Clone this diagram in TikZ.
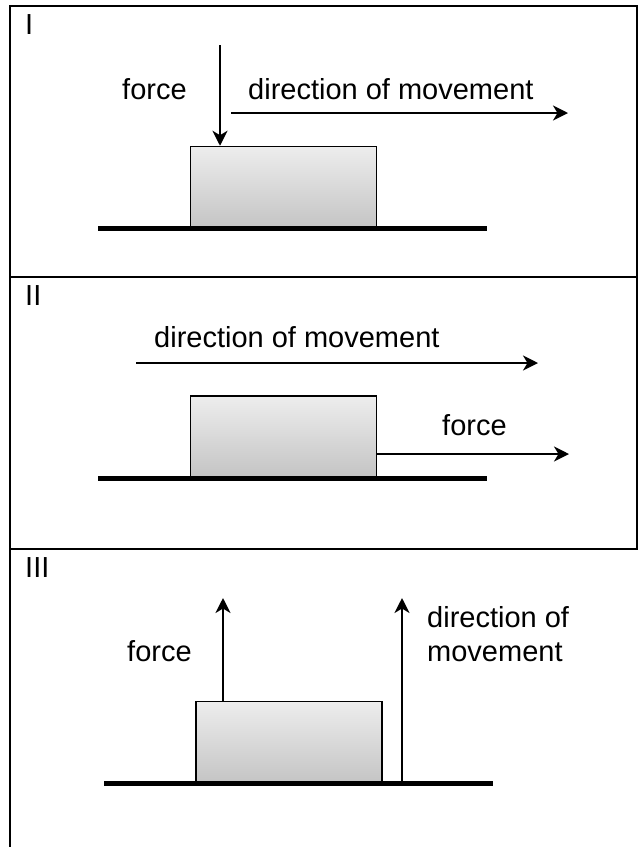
\documentclass[tikz,border=0pt]{standalone}
\usepackage{fontspec}
\setmainfont{Liberation Sans}
\usetikzlibrary{arrows.meta}

\begin{document}
\begin{tikzpicture}[x=1pt,y=-1pt,font=\fontsize{29}{34}\selectfont,
  block/.style={draw,line width=1.5pt,top color=black!7,bottom color=black!23,
    minimum width=186pt,minimum height=81pt,inner sep=0pt},
  txt/.style={anchor=base west,inner sep=0pt,align=left},
  arr/.style={line width=2pt,-{Stealth[length=15pt,width=15pt,inset=4.5pt]}},
  ground/.style={line width=5pt}]
  \useasboundingbox (0,0) rectangle (638,847);
  % frame and panel lines
  \draw[line width=2pt] (9.5,847) -- (9.5,6) -- (636.5,6) -- (636.5,549);
  \foreach \y in {277,549} \draw[line width=2pt] (9.5,\y) -- (638,\y);

  % panel I
  \node[txt] (labI) at (25,34) {I};
  \node[block] (boxI) at (283.5,187) {};
  \draw[ground] (98,228.5) -- (487,228.5);
  \node[txt] (forceI) at (122,99) {force};
  \node[txt] (dirI) at (248,99) {direction of movement};
  \coordinate (fI) at (220,45);
  \draw[arr] (fI) -- (fI |- boxI.north);
  \coordinate (mIa) at (231,113);
  \coordinate (mIb) at (568,113);
  \draw[arr] (mIa) -- (mIb);

  % panel II
  \node[txt] (labII) at (25,305) {II};
  \node[block] (boxII) at (283.5,436.5) {};
  \draw[ground] (98,478.5) -- (487,478.5);
  \node[txt] (dirII) at (154,347) {direction of movement};
  \node[txt] (forceII) at (442,435) {force};
  \coordinate (mIIa) at (136,363);
  \coordinate (mIIb) at (538,363);
  \draw[arr] (mIIa) -- (mIIb);
  \coordinate (fII) at (569,454);
  \draw[arr] (boxII.east |- fII) -- (fII);

  % panel III
  \node[txt] (labIII) at (25,577) {III};
  \node[block] (boxIII) at (288.75,742) {};
  \draw[ground] (104,783.5) -- (493,783.5);
  \node[txt] (forceIII) at (127,661) {force};
  \node[txt] (dirIII) at (427,661) {direction of\\movement};
  \coordinate (fIII) at (223,598);
  \draw[arr] (fIII |- boxIII.north) -- (fIII);
  \coordinate (mIIIa) at (402,782);
  \coordinate (mIIIb) at (402,598);
  \draw[arr] (mIIIa) -- (mIIIb);
\end{tikzpicture}
\end{document}
